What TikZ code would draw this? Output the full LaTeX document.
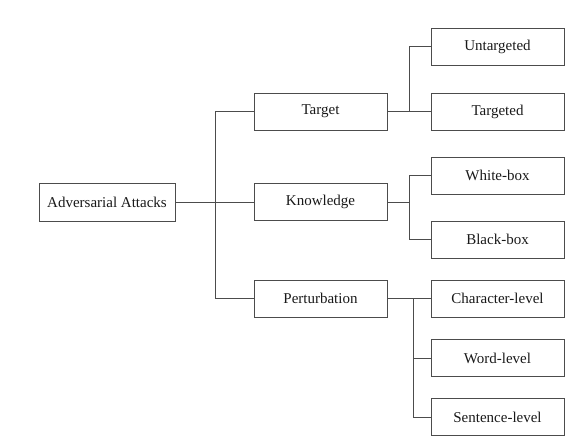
\documentclass[tikz,border=0pt]{standalone}
\usepackage{fontspec}
\setmainfont{Liberation Serif}
\begin{document}
\begin{tikzpicture}[x=1pt,y=-1pt,
  box/.style={draw=black!70,line width=0.9pt,rectangle,inner sep=0pt,minimum height=37pt,font=\fontsize{15}{18}\selectfont,text=black!90},
  rootbox/.style={box,minimum width=136pt,minimum height=38pt},
  midbox/.style={box,minimum width=133pt},
  leafbox/.style={box,minimum width=133pt},
  conn/.style={draw=black!70,line width=0.9pt}]
\useasboundingbox (0,0) rectangle (584,447);
\node[rootbox] (adv) at (107,202) {Adversarial Attacks};
\node[midbox] (target) at (320.5,111.5) {Target};
\node[midbox] (know) at (320.5,202) {Knowledge};
\node[midbox] (pert) at (320.5,298.5) {Perturbation};
\node[leafbox] (untg) at (497.5,46.5) {Untargeted};
\node[leafbox] (tg) at (497.5,111.5) {Targeted};
\node[leafbox] (wb) at (497.5,175.5) {White-box};
\node[leafbox] (bb) at (497.5,239.5) {Black-box};
\node[leafbox] (cl) at (497.5,298.5) {Character-level};
\node[leafbox] (wl) at (497.5,358) {Word-level};
\node[leafbox] (sl) at (497.5,417) {Sentence-level};
\coordinate (j0) at (215,202);
\coordinate (j1) at (409,111.5);
\coordinate (j2) at (409,202);
\coordinate (j3) at (413,298.5);
% root
\draw[conn] (adv.east) -- (j0);
\draw[conn] (j0 |- target.west) -- (j0 |- pert.west);
\draw[conn] (j0 |- target.west) -- (target.west);
\draw[conn] (j0) -- (know.west);
\draw[conn] (j0 |- pert.west) -- (pert.west);
% target
\draw[conn] (target.east) -- (tg.west);
\draw[conn] (j1) -- (j1 |- untg.west) -- (untg.west);
% knowledge
\draw[conn] (know.east) -- (j2);
\draw[conn] (j2 |- wb.west) -- (j2 |- bb.west);
\draw[conn] (j2 |- wb.west) -- (wb.west);
\draw[conn] (j2 |- bb.west) -- (bb.west);
% perturbation
\draw[conn] (pert.east) -- (cl.west);
\draw[conn] (j3) -- (j3 |- sl.west) -- (sl.west);
\draw[conn] (j3 |- wl.west) -- (wl.west);
\end{tikzpicture}
\end{document}
